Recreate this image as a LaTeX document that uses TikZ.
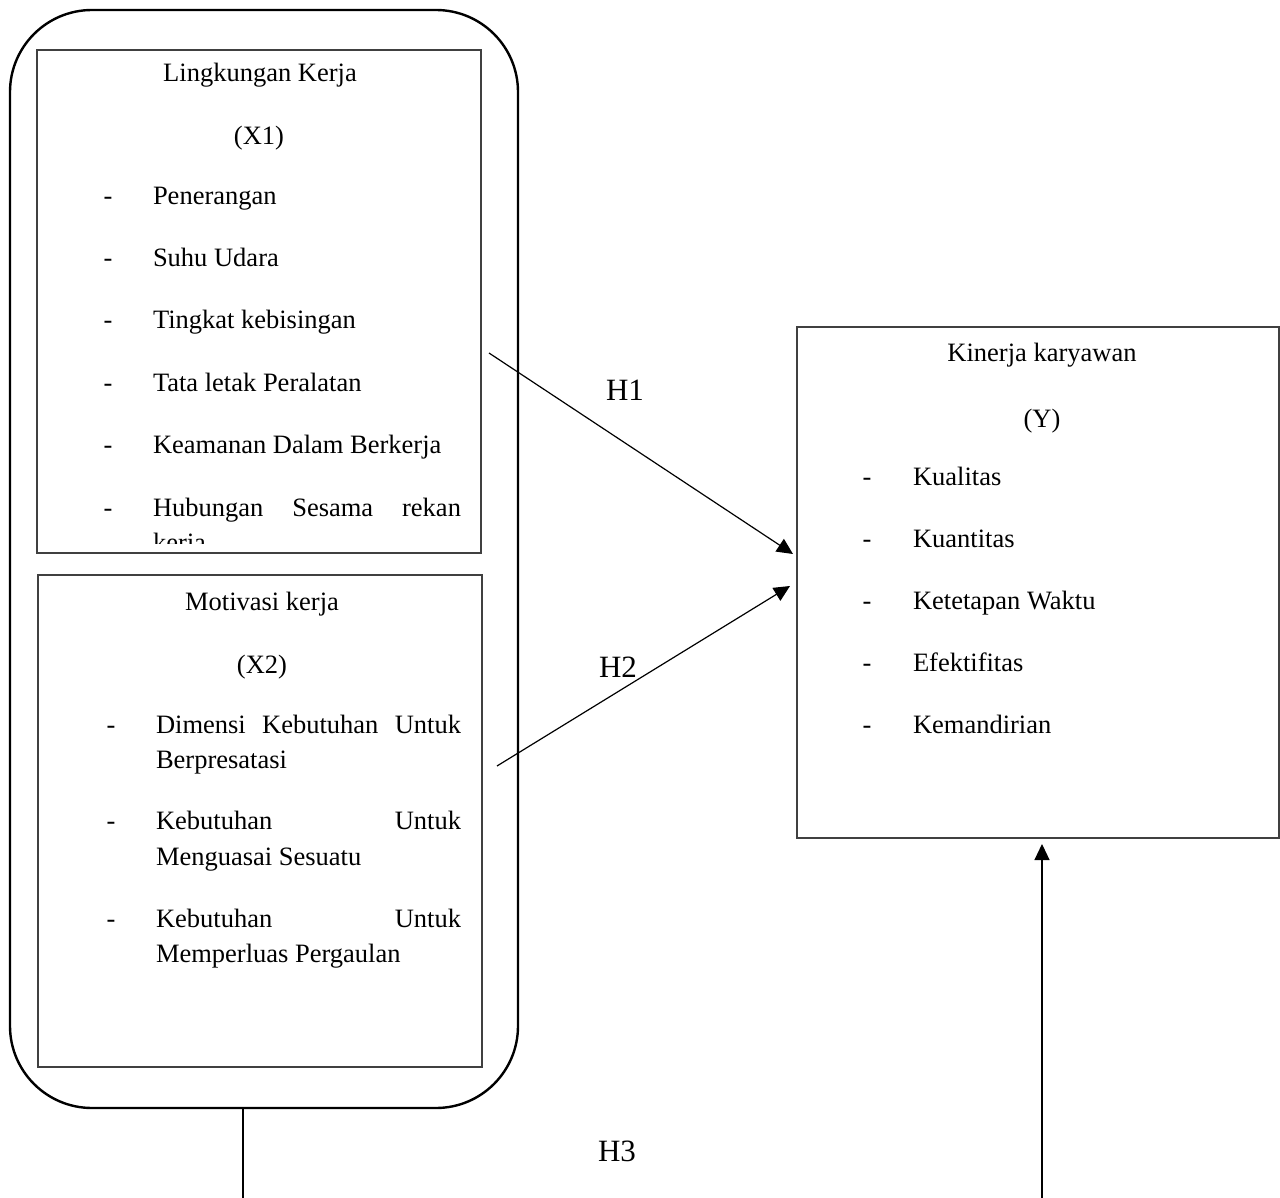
\documentclass[tikz,border=0pt]{standalone}
\usepackage{fontspec}
\setmainfont{Liberation Serif}
\usetikzlibrary{arrows.meta}
\tikzset{
  boxframe/.style={draw=black!75, line width=1.4pt, inner sep=0pt, outer sep=0pt, anchor=north west},
  groupframe/.style={draw=black, line width=2.4pt, rounded corners=82pt, inner sep=0pt, outer sep=0pt, anchor=north west},
  txt/.style={inner sep=0pt, outer sep=0pt, font=\fontsize{26.5}{32}\selectfont},
  itm/.style={txt, anchor=base west},
  dsh/.style={txt, anchor=base},
  ttl/.style={txt, anchor=base},
  hlab/.style={inner sep=0pt, anchor=base, font=\fontsize{31}{36}\selectfont},
  conn/.style={draw=black, line width=1.2pt},
  arr/.style={conn, -{Triangle[length=16pt,width=15pt]}}
}
\begin{document}
\begin{tikzpicture}[x=1pt,y=-1pt]
\useasboundingbox (0,0) rectangle (1280,1198);
% group frame
\node[groupframe, minimum width=508pt, minimum height=1098pt] (grp) at (10,10) {};
% X1 box
\node[boxframe, minimum width=444pt, minimum height=503pt] (bx1) at (37,50) {};
\node[ttl] (x1t) at (260,82) {Lingkungan Kerja};
\node[ttl] (x1v) at (259,145) {(X1)};
\node[dsh] (x1d1) at (108,205) {-};
\node[itm] (x1i1) at (153,205) {Penerangan};
\node[dsh] (x1d2) at (108,267) {-};
\node[itm] (x1i2) at (153,267) {Suhu Udara};
\node[dsh] (x1d3) at (108,329) {-};
\node[itm] (x1i3) at (153,329) {Tingkat kebisingan};
\node[dsh] (x1d4) at (108,391) {-};
\node[itm] (x1i4) at (153,391) {Tata letak Peralatan};
\node[dsh] (x1d5) at (108,453) {-};
\node[itm] (x1i5) at (153,453) {Keamanan Dalam Berkerja};
\node[dsh] (x1d6) at (108,516) {-};
\node[itm] (x1i6) at (153,516) {\hbox to 308pt{Hubungan\hfill Sesama\hfill rekan}};
\begin{scope}
\clip (37,50) rectangle (481,543);
\node[itm] (x1i6b) at (153,551) {kerja};
\end{scope}
% X2 box
\node[boxframe, minimum width=444pt, minimum height=492pt] (bx2) at (38,575) {};
\node[ttl] (x2t) at (262,610) {Motivasi kerja};
\node[ttl] (x2v) at (262,673) {(X2)};
\node[dsh] (x2d1) at (111,733) {-};
\node[itm] (x2i1) at (156,733) {\hbox to 305pt{Dimensi\hfill Kebutuhan\hfill Untuk}};
\node[itm] (x2i1b) at (156,768) {Berpresatasi};
\node[dsh] (x2d2) at (111,829) {-};
\node[itm] (x2i2) at (156,829) {\hbox to 305pt{Kebutuhan\hfill Untuk}};
\node[itm] (x2i2b) at (156,865) {Menguasai Sesuatu};
\node[dsh] (x2d3) at (111,927) {-};
\node[itm] (x2i3) at (156,927) {\hbox to 305pt{Kebutuhan\hfill Untuk}};
\node[itm] (x2i3b) at (156,962) {Memperluas Pergaulan};
% Y box
\node[boxframe, minimum width=482pt, minimum height=511pt] (by) at (797,327) {};
\node[ttl] (yt) at (1042,362) {Kinerja karyawan};
\node[ttl] (yv) at (1042,427) {(Y)};
\node[dsh] (yd1) at (867,485) {-};
\node[itm] (yi1) at (913,485) {Kualitas};
\node[dsh] (yd2) at (867,547) {-};
\node[itm] (yi2) at (913,547) {Kuantitas};
\node[dsh] (yd3) at (867,609) {-};
\node[itm] (yi3) at (913,609) {Ketetapan Waktu};
\node[dsh] (yd4) at (867,671) {-};
\node[itm] (yi4) at (913,671) {Efektifitas};
\node[dsh] (yd5) at (867,733) {-};
\node[itm] (yi5) at (913,733) {Kemandirian};
% connectors
\coordinate (h1s) at (489,353);
\coordinate (h1e) at (793,554);
\coordinate (h2s) at (497,766);
\coordinate (h2e) at (790,586);
\draw[arr] (h1s) -- (h1e);
\draw[arr] (h2s) -- (h2e);
\coordinate (h3a) at (243,1108);
\coordinate (h3b) at (243,1199);
\draw[conn] (h3a) -- (h3b);
\coordinate (h3c) at (1042,1199);
\coordinate (h3d) at (1042,844);
\draw[arr] (h3c) -- (h3d);
% labels
\node[hlab] (lh1) at (625,400) {H1};
\node[hlab] (lh2) at (618,677) {H2};
\node[hlab] (lh3) at (617,1161) {H3};
\end{tikzpicture}
\end{document}
